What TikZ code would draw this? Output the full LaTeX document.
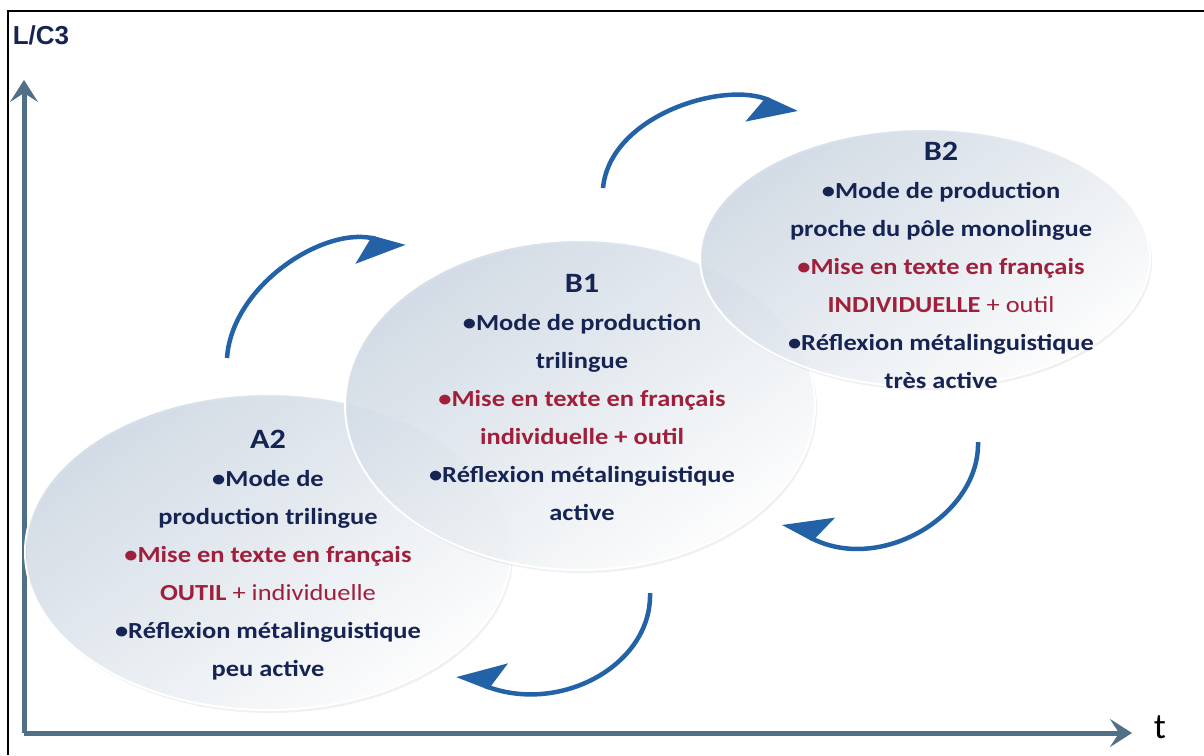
\documentclass[tikz,border=0pt]{standalone}
\usepackage{fontspec}
\setmainfont{Carlito}
\newfontfamily\bodyfont{Carlito}[FakeStretch=1.15]
\newfontfamily\axisfont{Liberation Sans}
\usetikzlibrary{arrows.meta,shapes.geometric,shadows}

\definecolor{navy}{RGB}{22,36,84}
\definecolor{wine}{RGB}{160,32,60}
\definecolor{axisgray}{RGB}{80,112,136}
\definecolor{cycblue}{RGB}{36,98,168}
\definecolor{pale}{RGB}{205,216,228}

\tikzset{
  phase/.style={ellipse, draw=white, line width=2pt, top color=pale, bottom color=white, shading angle=35,
    fill opacity=0.85, drop shadow={opacity=0.12, shadow xshift=2pt, shadow yshift=-3pt}},
  phasetext/.style={align=center, text=navy, inner sep=0pt, font=\bodyfont\bfseries\fontsize{23}{38}\selectfont},
  axis/.style={draw=axisgray, line width=5pt, -{Stealth[length=22pt,width=28pt,inset=9pt]}},
  cyclearrow/.style={draw=cycblue, line width=4.5pt, -{Stealth[harpoon,swap,length=40pt,width=58pt,inset=8pt]}}
}

\begin{document}
\begin{tikzpicture}[x=1pt,y=-1pt]
\useasboundingbox (0,0) rectangle (1204,755);

\draw[line width=1.5pt] (1204,11) -- (8,11) -- (8,755);

% axes
\coordinate (orig) at (24,733);
\coordinate (ytip) at (24,80);
\coordinate (xtip) at (1132,733);
\draw[axis] (orig) -- (ytip);
\draw[axis] (orig) -- (xtip);
\node[font=\axisfont\bfseries\fontsize{26}{26}\selectfont, text=navy] (lc3) at (41,35) {L/C3};
\node[font=\fontsize{36}{36}\selectfont] (tlab) at (1160,727) {t};

% phases
\node[phase, minimum width=486pt, minimum height=316pt] (A2) at (268,552) {};
\node[phase, minimum width=470pt, minimum height=330pt] (B1) at (580,405) {};
\node[phase, minimum width=450pt, minimum height=258pt] (B2) at (925,258) {};

\node[phasetext] (A2txt) at (268,555) {{\fontsize{28}{38}\selectfont A2}\\
  •Mode de\\
  production trilingue\\
  \textcolor{wine}{•Mise en texte en français}\\
  \textcolor{wine}{OUTIL {\mdseries + individuelle}}\\
  •Réflexion métalinguistique\\
  peu active};
\node[phasetext] (B1txt) at (582,397) {{\fontsize{28}{38}\selectfont B1}\\
  •Mode de production\\
  trilingue\\
  \textcolor{wine}{•Mise en texte en français}\\
  \textcolor{wine}{individuelle + outil}\\
  •Réflexion métalinguistique\\
  active};
\node[phasetext] (B2txt) at (941,265) {{\fontsize{28}{38}\selectfont B2}\\
  •Mode de production\\
  proche du pôle monolingue\\
  \textcolor{wine}{•Mise en texte en français}\\
  \textcolor{wine}{INDIVIDUELLE {\mdseries + outil}}\\
  •Réflexion métalinguistique\\
  très active};

% cycle arrows
\coordinate (a2up) at (227,358);
\coordinate (b1in) at (405,247);
\coordinate (b1up) at (603,188);
\coordinate (b2in) at (797,113);
\coordinate (b2down) at (978,442);
\coordinate (b1back) at (783,523);
\coordinate (b1down) at (650,593);
\coordinate (a2back) at (457,675);
\draw[cyclearrow] (a2up) .. controls (232,285) and (325,225) .. (b1in);
\draw[cyclearrow] (b1up) .. controls (610,115) and (725,80) .. (b2in);
\draw[cyclearrow] (b2down) .. controls (980,515) and (880,575) .. (b1back);
\draw[cyclearrow] (b1down) .. controls (652,665) and (560,715) .. (a2back);
\end{tikzpicture}
\end{document}
